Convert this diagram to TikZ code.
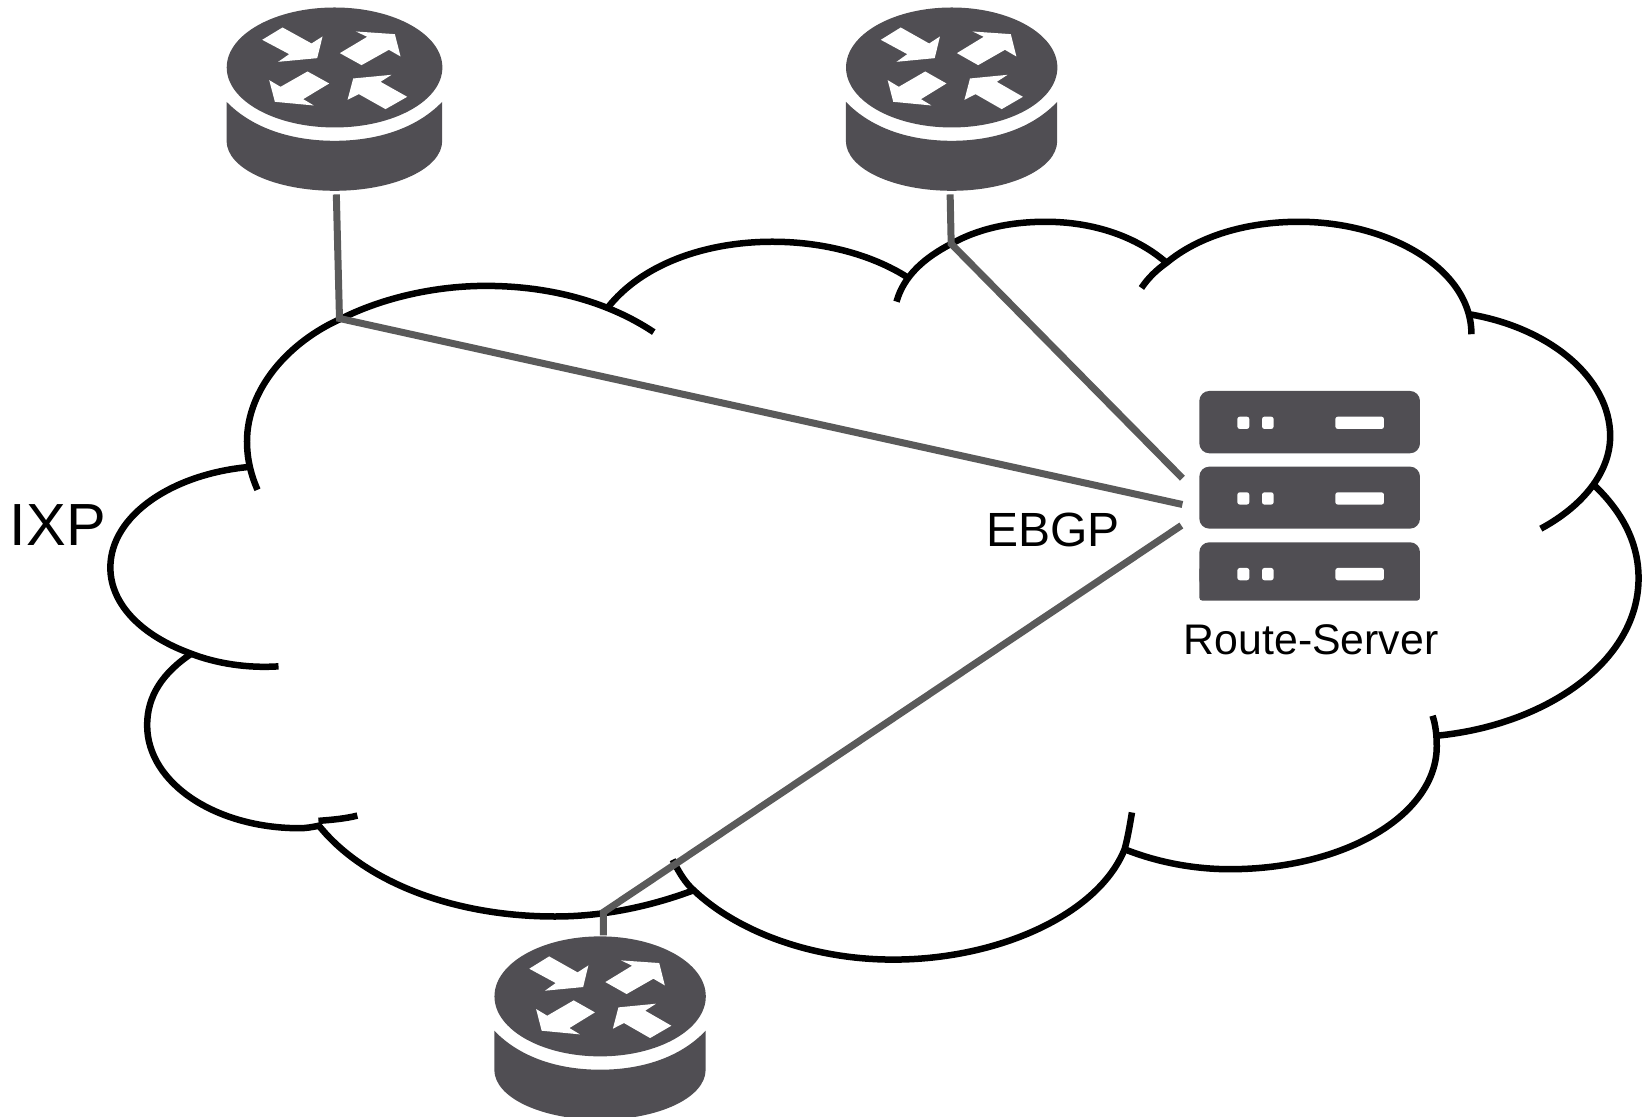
\documentclass[tikz,border=0pt]{standalone}
\usepackage{fontspec}
\setmainfont{Liberation Sans}
\definecolor{icon}{HTML}{504E53}
\definecolor{linkgray}{HTML}{5A5A5A}
\tikzset{
  cloudline/.style={draw=black,line width=6.5pt,line cap=butt},
  link/.style={draw=linkgray,line width=7pt},
  anchorbox/.style={inner sep=0pt,outer sep=0pt,draw=none},
  lbl/.style={inner sep=0pt,text=black},
  routericon/.pic={
    \begin{scope}[x=0.3333pt,y=-0.3333pt,shift={(-374,-200)}]
      \fill[icon] (374,200) ellipse [x radius=323.5,y radius=180];
      \fill[white] (157,117)--(218,80)--(305,128)--(338,107)--(322,172)--(205,183)--(238,160)--cycle;
      \fill[white] (390,157)--(472,108)--(438,92)--(555,100)--(572,167)--(537,147)--(455,193)--cycle;
      \fill[white] (358,248)--(293,212)--(212,258)--(178,238)--(195,303)--(312,314)--(280,295)--cycle;
      \fill[white] (592,288)--(527,325)--(447,280)--(413,297)--(430,233)--(545,222)--(512,243)--cycle;
      \fill[icon] (50,303) .. controls (130,385) and (250,420) .. (374,420)
        .. controls (498,420) and (618,385) .. (697,303) -- (697,420)
        .. controls (697,505) and (550,570) .. (374,570)
        .. controls (198,570) and (50,505) .. (50,420) -- cycle;
    \end{scope}
  },
  servericon/.pic={
    \begin{scope}[x=0.3333pt,y=-0.3333pt]
      \fill[icon,rounded corners=10pt] (88,63) rectangle (750,250);
      \fill[icon,rounded corners=10pt] (88,290) rectangle (750,476);
      \fill[icon,rounded corners=10pt] (88,517) rectangle (750,660);
      \fill[icon,rounded corners=3pt] (88,590) rectangle (750,692);
      \foreach \y in {140,367,594}{
        \fill[white,rounded corners=2.5pt] (202,\y) rectangle (238,\y+37);
        \fill[white,rounded corners=2.5pt] (276,\y) rectangle (311,\y+37);
        \fill[white,rounded corners=2.5pt] (496,\y) rectangle (642,\y+37);
      }
    \end{scope}
  }
}
\begin{document}
\begin{tikzpicture}[x=1.051pt,y=-1.051pt]
\useasboundingbox (0,0) rectangle (1568,1062);
\clip (0,0) rectangle (1568,1062);
% cloud
\draw[cloudline] (245,466) .. controls (238,450) and (235,435) .. (235,420) .. controls (235,370) and (275,325) .. (325,303) .. controls (365,283) and (415,272) .. (462,272) .. controls (525,272) and (580,288) .. (622,316);
\draw[cloudline] (578,293) .. controls (610,252) and (670,230) .. (735,230) .. controls (785,230) and (830,243) .. (862,263);
\draw[cloudline] (853,287) .. controls (860,262) and (880,245) .. (905,232) .. controls (930,218) and (960,211) .. (995,211) .. controls (1040,211) and (1082,225) .. (1111,251);
\draw[cloudline] (1086,274) .. controls (1092,265) and (1100,257) .. (1110,250) .. controls (1140,225) and (1185,211) .. (1236,211) .. controls (1320,211) and (1400,255) .. (1400,318);
\draw[cloudline] (1398,299) .. controls (1475,312) and (1532,360) .. (1532,415) .. controls (1532,450) and (1505,482) .. (1466,503);
\draw[cloudline] (1515,460) .. controls (1542,485) and (1559,515) .. (1559,550) .. controls (1559,630) and (1470,690) .. (1367,700);
\draw[cloudline] (1363,681) .. controls (1366,690) and (1367,700) .. (1367,710) .. controls (1367,775) and (1280,827) .. (1170,827) .. controls (1135,827) and (1100,820) .. (1070,808);
\draw[cloudline] (1077,773) .. controls (1075,785) and (1073,797) .. (1070,808) .. controls (1045,870) and (950,913) .. (850,913) .. controls (770,913) and (700,885) .. (660,847) .. controls (652,840) and (646,830) .. (640,818);
\draw[cloudline] (660,847) .. controls (620,862) and (575,872) .. (528,872) .. controls (430,872) and (345,838) .. (303,785);
\draw[cloudline] (340,776) .. controls (328,779) and (316,780) .. (303,781);
\draw[cloudline] (304,785.5) .. controls (297,787) and (291,788) .. (285,788) .. controls (205,788) and (140,745) .. (140,690) .. controls (140,662) and (155,640) .. (182,622);
\draw[cloudline] (265,634) .. controls (235,636) and (205,631) .. (182,622) .. controls (135,605) and (105,575) .. (105,540) .. controls (105,490) and (165,450) .. (240,444);
% icons
\node[anchorbox,minimum width=216pt,minimum height=120pt] (r1) at (318.3,64.2) {};
\node[anchorbox,minimum width=212pt,minimum height=120pt] (r2) at (905.5,64.2) {};
\node[anchorbox,minimum width=212pt,minimum height=120pt] (r3) at (571,948) {};
\pic at (r1) {routericon};
\pic[xscale=0.98] at (r2) {routericon};
\pic[xscale=0.98] at (r3) {routericon};
\node[anchorbox,minimum width=221pt,minimum height=209pt] (rs) at (1246,471.5) {};
\pic at (1113.2,352) {servericon};
% connector ends
\coordinate (s1) at (320,185);
\coordinate (j1) at (323,303);
\coordinate (e1) at (1125,480);
\coordinate (s2) at (904,185);
\coordinate (j2) at (905,232);
\coordinate (e2) at (1125,455);
\coordinate (s3) at (574,890);
\coordinate (j3) at (574,868);
\coordinate (e3) at (1124,500);
\draw[link] (s1) -- (j1) -- (e1);
\draw[link] (s2) -- (j2) -- (e2);
\draw[link] (s3) -- (j3) -- (e3);
% labels
\node[lbl,font=\fontsize{59.5pt}{62pt}\selectfont] (ixp) at (55,500) {IXP};
\node[lbl,font=\fontsize{48pt}{52pt}\selectfont] (ebgp) at (1002,504) {EBGP};
\node[lbl,font=\fontsize{42.8pt}{46pt}\selectfont] (rslabel) at (1247.5,608.5) {Route-Server};
\end{tikzpicture}
\end{document}
